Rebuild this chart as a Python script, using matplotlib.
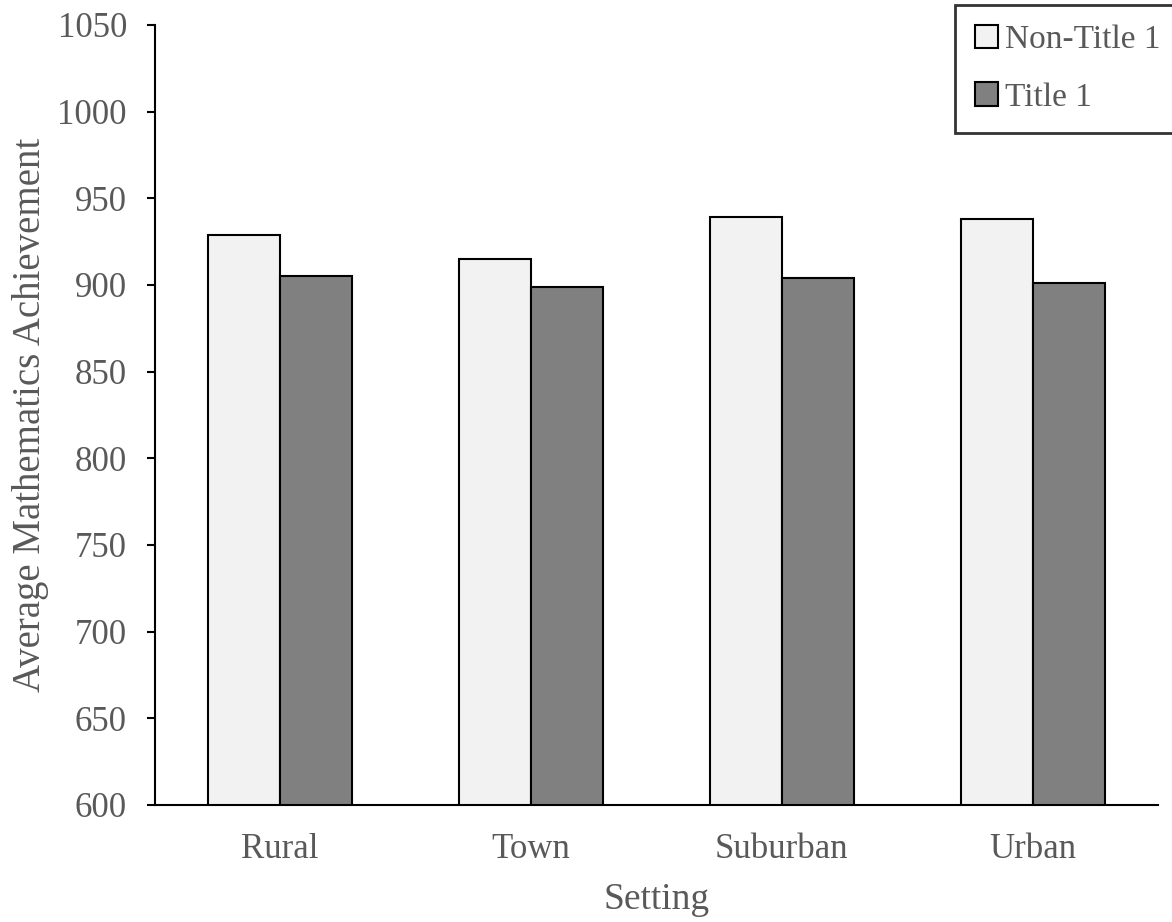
import numpy as np
import matplotlib.pyplot as plt
from matplotlib.patches import Patch

SETTINGS = ["Rural", "Town", "Suburban", "Urban"]
NON_TITLE1 = [929, 915, 939, 938]
TITLE1 = [905, 899, 904, 901]
Y_TICKS = [600, 650, 700, 750, 800, 850, 900, 950, 1000, 1050]

TEXT_GRAY = "#595959"
plt.rcParams["font.family"] = ["Liberation Serif", "DejaVu Serif"]

fig = plt.figure(figsize=(11.72, 9.22), dpi=100)
ax = fig.add_axes([0.132, 0.127, 0.856, 0.846])

x = np.arange(len(SETTINGS))
w = 0.287
ax.bar(x - w / 2, NON_TITLE1, width=w, color="#f2f2f2",
       edgecolor="black", linewidth=1.5, label="Non-Title 1")
ax.bar(x + w / 2, TITLE1, width=w, color="#808080",
       edgecolor="black", linewidth=1.5, label="Title 1")

ax.set_ylim(600, 1050)
ax.set_xlim(-0.5, len(SETTINGS) - 0.5)
ax.set_yticks(Y_TICKS)
ax.set_xticks(x)
ax.set_xticklabels(SETTINGS)

for s in ["top", "right"]:
    ax.spines[s].set_visible(False)
ax.spines["left"].set_linewidth(1.5)
ax.spines["bottom"].set_linewidth(1.5)
ax.tick_params(axis="y", direction="out", length=6, width=1.5,
               labelsize=25, labelcolor=TEXT_GRAY, pad=14)
ax.tick_params(axis="x", length=0, labelsize=25, labelcolor=TEXT_GRAY, pad=20)

ax.set_ylabel("Average Mathematics Achievement", fontsize=28, color=TEXT_GRAY, labelpad=6)
ax.set_xlabel("Setting", fontsize=27, color=TEXT_GRAY, labelpad=12)

handles = [Patch(facecolor="#f2f2f2", edgecolor="black", linewidth=1.5),
           Patch(facecolor="#808080", edgecolor="black", linewidth=1.5)]
leg = fig.legend(handles, ["Non-Title 1", "Title 1"], loc="upper left",
                 bbox_to_anchor=(955 / 1172, 1 - 5 / 922), borderaxespad=0,
                 fontsize=24, frameon=True,
                 fancybox=False, handlelength=0.7, handleheight=0.7,
                 handletextpad=0.2, labelspacing=0.8, borderpad=0.6,
                 labelcolor=TEXT_GRAY)
leg.get_frame().set_edgecolor("black")
leg.get_frame().set_linewidth(2)

fig.savefig("out.png", dpi=100)
